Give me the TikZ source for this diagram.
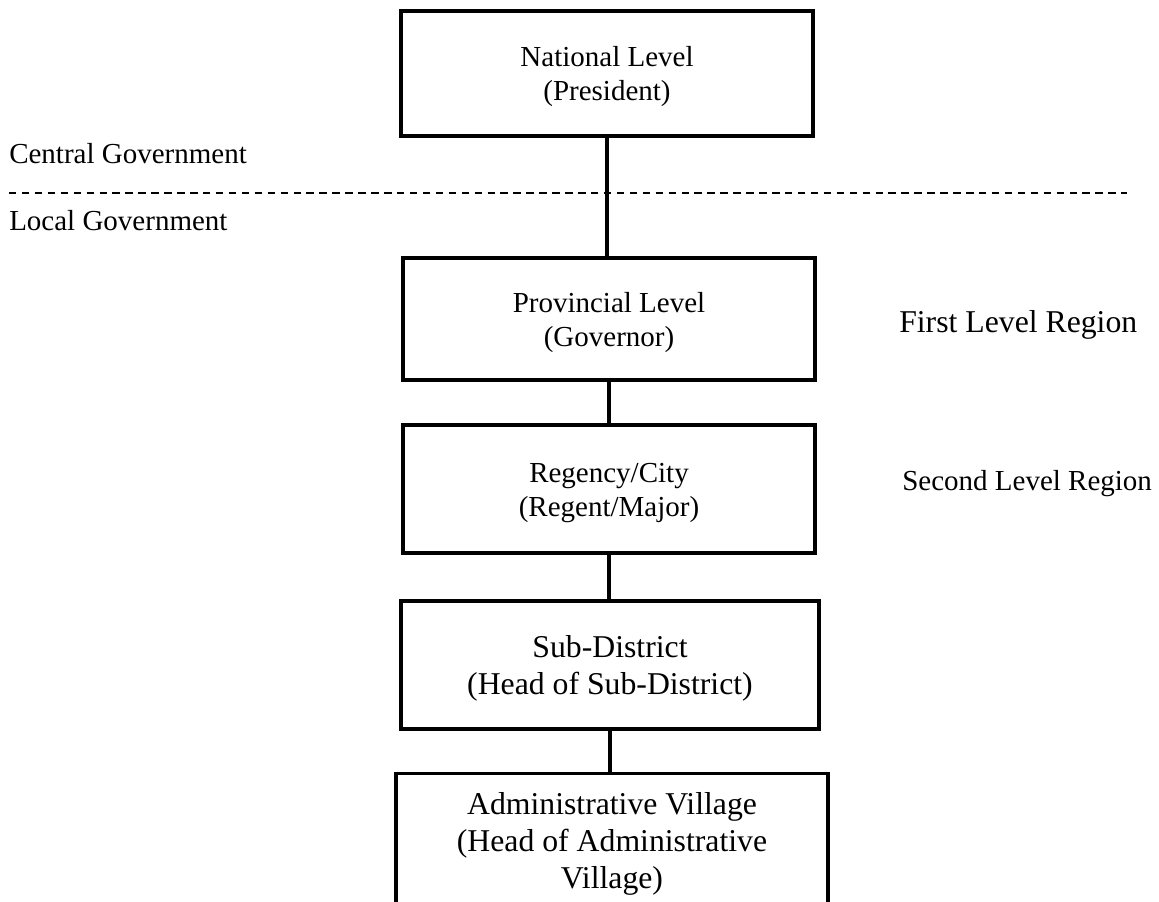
\documentclass[tikz,border=0pt]{standalone}
\usepackage{fontspec}
\setmainfont{Liberation Serif}
% extra room above the first line of a box label
\newcommand\toppad[1]{\rule{0pt}{#1}}
\begin{document}
\begin{tikzpicture}[x=0.75pt,y=-0.75pt,
  levelbox/.style={draw=black, line width=2.4pt, align=center, inner sep=0pt},
  smalltext/.style={font=\fontsize{21.75pt}{25.5pt}\selectfont},
  largetext/.style={font=\fontsize{23.8pt}{27.6pt}\selectfont},
  link/.style={line width=2.6pt},
  sidetext/.style={anchor=base west, inner sep=0pt}]
\useasboundingbox (0,0) rectangle (1159,901);

% hierarchy of government levels
\node[levelbox, smalltext, minimum width=309pt, minimum height=93.75pt] (nat) at (607,73.5)
  {\toppad{20pt}National Level\\(President)};
\node[levelbox, smalltext, minimum width=309pt, minimum height=91.5pt] (prov) at (609,319)
  {\toppad{20pt}Provincial Level\\(Governor)};
\node[levelbox, smalltext, minimum width=309pt, minimum height=96pt] (reg) at (609,489)
  {\toppad{20pt}Regency/City\\(Regent/Major)};
\node[levelbox, largetext, minimum width=313.5pt, minimum height=96pt] (sub) at (610,665)
  {\toppad{21.5pt}Sub-District\\(Head of Sub-District)};
\node[levelbox, largetext, minimum width=324pt, inner ysep=14.5pt, anchor=north] (vil) at (612,772)
  {Administrative Village\\(Head of Administrative\\Village)};

% boundary between central and local government
\coordinate (dashL) at (9,193);
\coordinate (dashR) at (1127,193);
\draw[line width=1.8pt, dash pattern=on 5.6pt off 4.1pt] (dashL) -- (dashR);
\node[sidetext, smalltext] (central) at (9,163) {Central Government};
\node[sidetext, smalltext] (local) at (9,230) {Local Government};

% region labels
\node[sidetext, largetext] (first) at (899,332) {First Level Region};
\node[sidetext, smalltext] (second) at (902,490) {Second Level Region};

% vertical links
\draw[link] (nat.south) -- (nat.south |- prov.north);
\draw[link] (prov.south) -- (prov.south |- reg.north);
\draw[link] (reg.south) -- (reg.south |- sub.north);
\draw[link] (sub.south) -- (sub.south |- vil.north);
\end{tikzpicture}
\end{document}
